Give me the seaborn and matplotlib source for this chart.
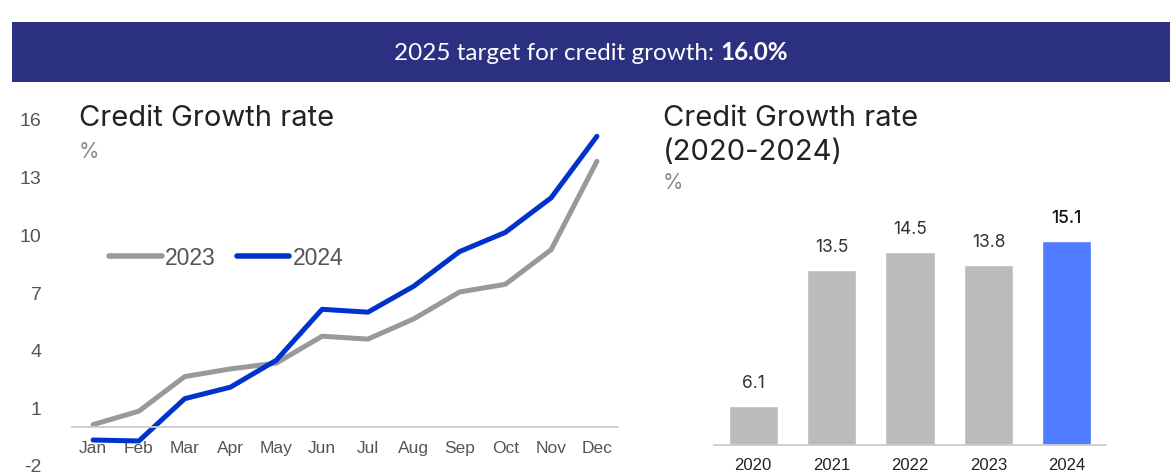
import matplotlib
matplotlib.use("Agg")
import matplotlib.pyplot as plt
import seaborn as sns
import pandas as pd

sns.set_style("white")
plt.rcParams['font.family'] = ['Liberation Sans', 'DejaVu Sans']
plt.rcParams['axes.unicode_minus'] = False

# data
months = ['Jan', 'Feb', 'Mar', 'Apr', 'May', 'Jun', 'Jul', 'Aug', 'Sep', 'Oct', 'Nov', 'Dec']
growth_2023 = [0.1, 0.8, 2.6, 3.0, 3.3, 4.7, 4.55, 5.6, 7.0, 7.4, 9.2, 13.8]
growth_2024 = [-0.7, -0.75, 1.45, 2.05, 3.45, 6.1, 5.95, 7.3, 9.1, 10.1, 11.9, 15.1]
years = ['2020', '2021', '2022', '2023', '2024']
yearly_growth = [6.1, 13.5, 14.5, 13.8, 15.1]
banner_text = '2025 target for credit growth: '
banner_value = '16.0%'

gray_line = '#999999'
blue_line = '#0033cc'
text_dark = '#222222'
text_gray = '#555555'

fig = plt.figure(figsize=(11.7, 4.77), dpi=100)

# banner
banner = fig.add_axes([12 / 1170, (477 - 83) / 477, 1158 / 1170, 60 / 477])
banner.set_facecolor('#2b3180')
banner.set_xticks([])
banner.set_yticks([])
for s in banner.spines.values():
    s.set_visible(False)
t1 = banner.text(0.5, 0.5, banner_text, color='white', fontsize=17.5, family='Lato',
                 ha='right', va='center', transform=banner.transAxes)
t2 = banner.text(0.5, 0.5, banner_value, color='white', fontsize=17.5, family='Lato',
                 weight='bold', ha='left', va='center', transform=banner.transAxes)
fig.canvas.draw()
W = banner.get_window_extent().width
w1 = t1.get_window_extent().width
w2 = t2.get_window_extent().width
xs = 0.5 + (w1 - w2) / 2 / W
t1.set_x(xs)
t2.set_x(xs)

# left: monthly lines
ax1 = fig.add_axes([72 / 1170, 11 / 477, 546 / 1170, 346 / 477])
df = pd.DataFrame({'month': months * 2,
                   'value': growth_2023 + growth_2024,
                   'year': ['2023'] * 12 + ['2024'] * 12})
sns.lineplot(data=df, x='month', y='value', hue='year', palette=[gray_line, blue_line],
             linewidth=3.6, ax=ax1, sort=False, solid_capstyle='round')
ax1.set_xlim(-0.46, 11.46)
ax1.set_ylim(-2, 16)
ax1.set_yticks([-2, 1, 4, 7, 10, 13, 16])
ax1.set_xlabel('')
ax1.set_ylabel('')
for s in ['top', 'right', 'left']:
    ax1.spines[s].set_visible(False)
ax1.spines['bottom'].set_position(('data', 0))
ax1.spines['bottom'].set_color('#cccccc')
ax1.spines['bottom'].set_linewidth(1.3)
ax1.tick_params(axis='x', length=0, pad=10, labelsize=12.5, labelcolor=text_gray)
ax1.tick_params(axis='y', length=0, pad=22, labelsize=14, labelcolor=text_gray)
leg = ax1.legend(loc='center left', bbox_to_anchor=(0.03, 0.6), ncol=2, frameon=False,
                 fontsize=16.5, handlelength=2.3, handletextpad=0.15, columnspacing=0.9,
                 labelcolor=text_gray)
for line in leg.get_lines():
    line.set_linewidth(4)
    line.set_solid_capstyle('round')
fig.text(79 / 1170, (477 - 118) / 477, 'Credit Growth rate', fontsize=21, color=text_dark,
         family='Inter', va='center', ha='left')
fig.text(79 / 1170, (477 - 152) / 477, '%', fontsize=15, color='#888888',
         family='Inter', va='center', ha='left')

# right: yearly bars
ax2 = fig.add_axes([714 / 1170, 31 / 477, 392 / 1170, 246 / 477])
bar_colors = ['#bbbbbb'] * 4 + ['#4f7bff']
sns.barplot(x=years, y=yearly_growth, hue=years, palette=bar_colors, legend=False,
            width=0.63, saturation=1, ax=ax2)
ax2.set_xlim(-0.5, 4.5)
ax2.set_ylim(4, 4 + 246 / 18.4)
ax2.set_yticks([])
for s in ['top', 'right', 'left']:
    ax2.spines[s].set_visible(False)
ax2.spines['bottom'].set_color('#cccccc')
ax2.spines['bottom'].set_linewidth(1.3)
ax2.set_xticks([i - 0.5 for i in range(6)], minor=True)
ax2.tick_params(axis='x', which='major', length=0, pad=9, labelsize=12, labelcolor=text_dark)
ax2.tick_params(axis='x', which='minor', length=6, width=1.3, color='#cccccc', direction='out')
for i, v in enumerate(yearly_growth):
    ax2.annotate(f'{v:.1f}', (i, v), xytext=(0, 17), textcoords='offset points',
                 ha='center', va='center', fontsize=12.5, family='Inter',
                 color='#111111' if i == 4 else '#333333',
                 weight='medium' if i == 4 else 'normal')
fig.text(663 / 1170, (477 - 118) / 477, 'Credit Growth rate', fontsize=21, color=text_dark,
         family='Inter', va='center', ha='left')
fig.text(663 / 1170, (477 - 152) / 477, '(2020-2024)', fontsize=21, color=text_dark,
         family='Inter', va='center', ha='left')
fig.text(663 / 1170, (477 - 183) / 477, '%', fontsize=15, color='#888888',
         family='Inter', va='center', ha='left')

fig.savefig('out.png', dpi=100)
